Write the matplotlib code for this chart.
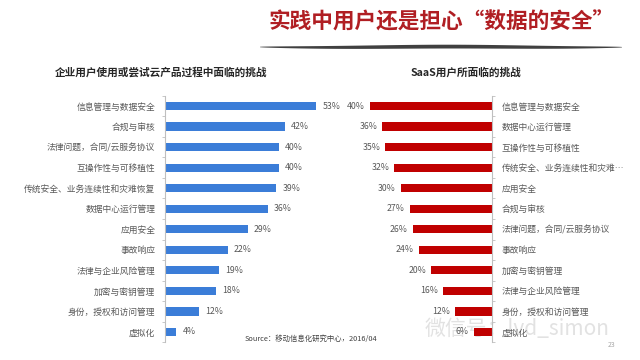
import numpy as np
import matplotlib
matplotlib.use("Agg")
import matplotlib.pyplot as plt
from matplotlib.patches import Polygon

plt.rcParams['font.family'] = ['Noto Sans CJK SC', 'DejaVu Sans']

left_title = "企业用户使用或尝试云产品过程中面临的挑战"
left_cats = ["信息管理与数据安全", "合规与审核", "法律问题，合同/云服务协议", "互操作性与可移植性",
             "传统安全、业务连续性和灾难恢复", "数据中心运行管理", "应用安全", "事故响应",
             "法律与企业风险管理", "加密与密钥管理", "身份，授权和访问管理", "虚拟化"]
left_vals = [53, 42, 40, 40, 39, 36, 29, 22, 19, 18, 12, 4]

right_title = "SaaS用户所面临的挑战"
right_cats = ["信息管理与数据安全", "数据中心运行管理", "互操作性与可移植性", "传统安全、业务连续性和灾难…",
              "应用安全", "合规与审核", "法律问题，合同/云服务协议", "事故响应",
              "加密与密钥管理", "法律与企业风险管理", "身份，授权和访问管理", "虚拟化"]
right_vals = [40, 36, 35, 32, 30, 27, 26, 24, 20, 16, 12, 6]

W, H = 640, 360
fig = plt.figure(figsize=(6.4, 3.6), dpi=100)
fig.patch.set_facecolor("white")

def box(x0, y0, x1, y1):
    return [x0 / W, 1 - y1 / H, (x1 - x0) / W, (y1 - y0) / H]

blue = "#3B7DD8"
red = "#C00000"
gray_txt = "#595959"
axis_col = "#BFBFBF"

# Watermark (behind the charts)
fig.text(425 / W, 1 - 329 / H, "微信号：lvd_simon", ha="left", va="center",
         fontsize=15, color="#D6D6D6", alpha=0.7, zorder=-1)

# Left chart
axL = fig.add_axes(box(165, 95.75, 336, 342.25))
y = np.arange(len(left_vals))
axL.barh(y, left_vals, height=0.4, color=blue)
axL.set_xlim(0, 60)
axL.set_ylim(len(left_vals) - 0.5, -0.5)
for s in ["top", "right", "bottom"]:
    axL.spines[s].set_visible(False)
axL.spines["left"].set_color(axis_col)
axL.spines["left"].set_linewidth(0.8)
axL.set_xticks([])
axL.set_yticks(y)
axL.set_yticklabels(left_cats, fontsize=6.3, color=gray_txt)
axL.tick_params(axis="y", which="major", length=0, pad=7)
axL.set_yticks(np.arange(-0.5, len(left_vals), 1), minor=True)
axL.tick_params(axis="y", which="minor", length=2.5, color=axis_col, direction="out")
for yi, v in zip(y, left_vals):
    axL.annotate(f"{v}%", (v, yi), xytext=(4.5, 0), textcoords="offset points",
                 va="center", ha="left", fontsize=6.3, color=gray_txt, annotation_clip=False)
axL.patch.set_alpha(0)

# Right chart
axR = fig.add_axes(box(339.5, 95.75, 492, 342.25))
axR.barh(y, right_vals, height=0.4, color=red)
axR.set_xlim(50, 0)
axR.set_ylim(len(right_vals) - 0.5, -0.5)
for s in ["top", "left", "bottom"]:
    axR.spines[s].set_visible(False)
axR.spines["right"].set_color(axis_col)
axR.spines["right"].set_linewidth(0.8)
axR.set_xticks([])
axR.yaxis.tick_right()
axR.set_yticks(y)
axR.set_yticklabels(right_cats, fontsize=6.3, color=gray_txt)
axR.tick_params(axis="y", which="major", length=0, pad=7)
axR.set_yticks(np.arange(-0.5, len(right_vals), 1), minor=True)
axR.tick_params(axis="y", which="minor", length=2.5, color=axis_col, direction="out")
for yi, v in zip(y, right_vals):
    axR.annotate(f"{v}%", (v, yi), xytext=(-3.5, 0), textcoords="offset points",
                 va="center", ha="right", fontsize=6.3, color=gray_txt, annotation_clip=False)
axR.patch.set_alpha(0)

# Titles
fig.text(442 / W, 1 - 22 / H, "实践中用户还是担心“数据的安全”", ha="center", va="center",
         fontsize=15.6, fontweight="heavy", color="#B01E23")
fig.text(161 / W, 1 - 72 / H, left_title, ha="center", va="center",
         fontsize=7.7, fontweight="bold", color="#262626")
fig.text(466 / W, 1 - 72 / H, right_title, ha="center", va="center",
         fontsize=7.7, fontweight="bold", color="#262626")

# Brush underline
xs = np.linspace(260, 622, 200)
t = (xs - xs[0]) / (xs[-1] - xs[0])
half = 1.7 * np.sin(np.pi * t) ** 0.6 + 0.2
yc = 47 + 0.4 * np.sin(t * 9)
top = np.column_stack([xs / W, 1 - (yc - half) / H])
bot = np.column_stack([xs[::-1] / W, 1 - (yc[::-1] + half[::-1]) / H])
fig.patches.append(Polygon(np.vstack([top, bot]), closed=True, transform=fig.transFigure,
                           facecolor="#2b2b2b", edgecolor="none", alpha=0.9))

# Source and page number
fig.text(245 / W, 1 - 339 / H, "Source：移动信息化研究中心，2016/04", ha="left", va="center",
         fontsize=5.3, color="#404040")
fig.text(612 / W, 1 - 345 / H, "23", ha="center", va="center", fontsize=5, color="#A6A6A6")

fig.savefig("out.png", dpi=100, facecolor="white")
